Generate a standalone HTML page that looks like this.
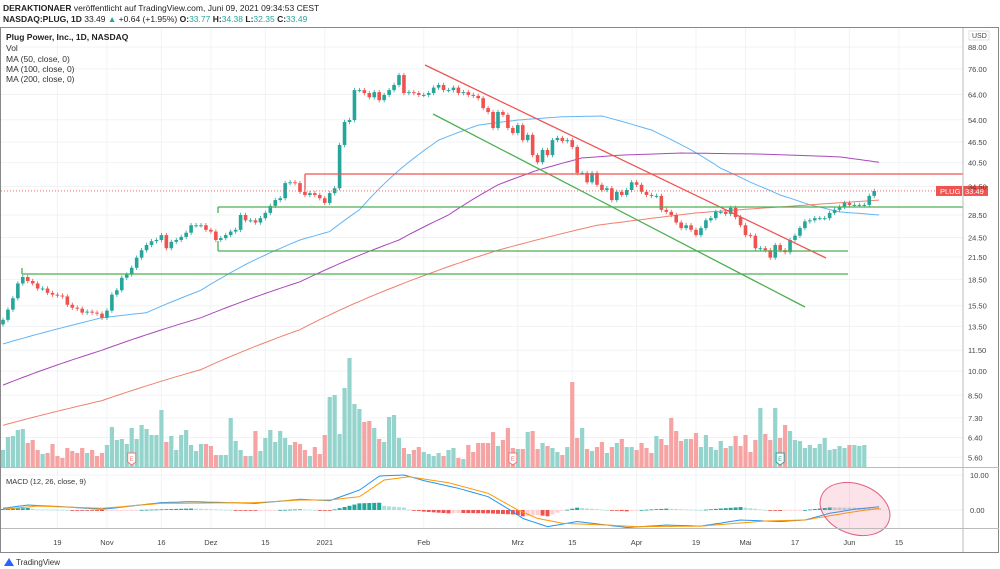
<!DOCTYPE html>
<html><head><meta charset="utf-8"><style>
body{margin:0;background:#fff;font-family:"Liberation Sans",sans-serif;}
svg{display:block}
text{font-family:"Liberation Sans",sans-serif;}
</style></head><body>
<svg id="c" width="1000" height="569" viewBox="0 0 1000 569">
<text x="3" y="11" font-size="8.5" fill="#222"><tspan font-weight="bold">DERAKTIONAER</tspan> veröffentlicht auf TradingView.com, Juni 09, 2021 09:34:53 CEST</text>
<text x="3" y="22" font-size="8.5" fill="#222"><tspan font-weight="bold">NASDAQ:PLUG, 1D</tspan> 33.49 <tspan fill="#26a69a">▲</tspan> +0.64 (+1.95%) <tspan font-weight="bold">O:</tspan><tspan fill="#26a69a">33.77</tspan> <tspan font-weight="bold">H:</tspan><tspan fill="#26a69a">34.38</tspan> <tspan font-weight="bold">L:</tspan><tspan fill="#26a69a">32.35</tspan> <tspan font-weight="bold">C:</tspan><tspan fill="#26a69a">33.49</tspan></text>
<rect x="0.5" y="27.5" width="998" height="525" fill="none" stroke="#888" stroke-width="1"/>
<g id="grid"></g>
<g id="lines"></g>
<g id="vol"></g>
<g id="ma"></g>
<g id="candles"></g>
<g id="draw"></g>
<g id="macd"></g>
<g id="axes"></g>
<text x="6" y="40" font-size="8.5" font-weight="bold" fill="#222">Plug Power, Inc., 1D, NASDAQ</text>
<text x="6" y="51" font-size="8.5" fill="#333">Vol</text>
<text x="6" y="62" font-size="8.5" fill="#333">MA (50, close, 0)</text>
<text x="6" y="72" font-size="8.5" fill="#333">MA (100, close, 0)</text>
<text x="6" y="82" font-size="8.5" fill="#333">MA (200, close, 0)</text>
<text x="6" y="484" font-size="7.5" fill="#333">MACD (12, 26, close, 9)</text>
<g><path d="M4 566 L9 558 L14 566 Z" fill="#2962ff"/><text x="16" y="565" font-size="8" fill="#333">TradingView</text></g>
</svg>
<script>
const closes=[14.1,15.1,16.3,18.0,18.8,18.3,18.0,17.4,17.4,16.9,16.7,16.6,16.5,15.6,15.3,15.2,14.8,14.9,14.8,14.7,14.3,15.0,16.7,17.2,18.7,19.1,20.0,21.4,22.5,23.3,23.9,24.1,24.9,22.8,23.8,24.1,24.6,25.3,26.6,26.6,26.6,25.8,25.5,24.1,24.4,24.9,25.5,25.8,28.5,27.5,27.5,27.1,27.9,28.9,30.3,31.5,31.9,35.3,35.5,35.3,33.3,32.6,33.0,32.6,31.9,30.9,33.0,34.1,
45.6,53.2,53.9,65.9,65.9,64.6,62.8,65.0,61.6,63.8,65.9,68.2,72.9,64.6,65.0,64.6,63.8,63.8,64.6,67.0,68.2,65.9,65.9,67.0,64.6,65.0,63.8,63.4,62.4,58.4,56.9,51.1,56.9,55.8,51.1,49.4,52.1,47.1,48.8,42.6,40.6,44.1,42.6,47.1,47.8,46.8,47.1,45.0,
37.8,37.8,35.5,37.8,34.9,33.7,34.1,31.5,33.3,32.6,33.7,35.5,34.9,33.3,32.6,32.4,32.4,29.5,29.1,28.5,27.1,26.1,26.6,25.8,24.9,26.1,27.5,27.9,29.1,29.1,28.7,29.9,28.1,26.6,24.9,24.8,22.8,22.8,22.5,21.4,23.3,22.5,22.2,24.1,24.8,26.1,27.3,27.5,27.9,27.9,27.9,28.9,29.5,30.1,30.9,30.5,30.5,30.5,30.5,32.4,33.49];
const volumes=[17,30,31,37,38,24,27,17,13,14,23,11,9,19,16,14,19,14,17,11,14,22,40,27,28,23,39,28,42,38,32,32,57,25,31,17,32,37,22,16,23,23,21,12,12,12,49,26,17,11,11,36,16,29,37,25,36,29,22,25,23,17,11,20,13,32,70,72,33,79,109,63,58,45,46,39,28,25,50,52,29,19,13,17,20,15,13,11,
14,11,17,19,9,8,22,15,24,24,24,35,21,27,39,19,18,18,35,36,18,24,21,19,15,12,20,85,29,39,18,16,20,25,14,20,24,28,20,20,17,24,19,14,31,28,22,49,36,26,28,28,34,20,32,20,17,26,19,21,31,21,32,15,27,59,33,27,59,29,42,36,27,26,19,22,19,23,29,17,18,21,19,22,22,21,22];
const ma50Idx=[0,20,29,40,50,60,66,72,80,88,96,104,113,121,131,139,145,151,157,163,169,177];
const ma50Val=[12.0,14.3,14.8,17.2,20.8,24.1,25.5,29.5,38.5,47.1,52.1,53.9,55.1,55.4,50.4,44.1,39.0,35.5,32.6,30.5,29.1,28.5];
const ma100Idx=[0,20,40,60,80,90,100,108,117,125,137,153,169,177];
const ma100Val=[9.1,11.5,14.3,18.2,24.1,28.5,34.9,38.5,41.8,42.6,43.2,42.9,42.1,40.6];
const ma200Idx=[0,20,40,60,80,100,120,140,160,177];
const ma200Val=[6.95,8.2,10.1,13.2,17.8,22.5,26.6,28.9,30.3,31.5];
const macdIdx=[0,5,12,20,32,38,51,60,66,72,76,81,85,92,98,103,105,110,116,122,126,134,141,149,157,162,167,172,177];
const macdVal=[0.48,1.43,0.95,0.19,2.1,2.38,1.9,3.05,2.67,5.7,9.7,10.0,8.4,6.2,3.8,-0.48,-2.4,-4.76,-3.3,-4.3,-5.0,-4.3,-4.6,-2.86,-3.3,-2.86,-0.95,0.19,0.95];
const sigIdx=[0,7,20,32,51,60,66,72,77,82,90,98,104,108,113,122,128,141,154,162,172,177];
const sigVal=[0.19,1.14,0.48,1.9,2.1,2.86,2.86,3.8,8.57,9.5,7.8,4.76,0,-2.4,-3.8,-4.3,-4.76,-4.6,-3.14,-2.86,-0.48,0.48];
const priceTicks=[88,76,64,54,46.5,40.5,34.5,28.5,24.5,21.5,18.5,15.5,13.5,11.5,10,8.5,7.3,6.4,5.6];
const timeLabels=["19","Nov","16","Dez","15","2021","Feb","Mrz","15","Apr","19","Mai","17","Jun","15"];
const timeIdx=[11,21,32,42,53,65,85,104,115,128,140,150,160,171,181];

const NS="http://www.w3.org/2000/svg";
function mk(tag,attrs,parent){const e=document.createElementNS(NS,tag);for(const k in attrs)e.setAttribute(k,attrs[k]);parent.appendChild(e);return e;}
const X=i=>3+i*4.95;
const Y=p=>47+149*Math.log(88/p);
const MZ=510, MS=3.5;
const MY=v=>MZ-v*MS;
function interp(idx,val,i){if(i<=idx[0])return val[0];for(let k=1;k<idx.length;k++){if(i<=idx[k]){const t=(i-idx[k-1])/(idx[k]-idx[k-1]);return val[k-1]+t*(val[k]-val[k-1]);}}return val[val.length-1];}
const G=id=>document.getElementById(id);

// grid
const grid=G('grid');
priceTicks.forEach(p=>{const l=mk('line',{x1:1,x2:963,y1:Y(p),y2:Y(p),stroke:'#f0f3f6'},grid);});
timeIdx.forEach(i=>{const l=mk('line',{x1:X(i),x2:X(i),y1:28,y2:528,stroke:'#f0f3f6'},grid);});
[475,510].forEach(y=>{mk('line',{x1:1,x2:963,y1:y,y2:y,stroke:'#f0f3f6'},grid);});

// axes
const ax=G('axes');
mk('line',{x1:963,x2:963,y1:28,y2:552,stroke:'#bbb'},ax);
mk('line',{x1:1,x2:999,y1:467.5,y2:467.5,stroke:'#bbb'},ax);
mk('line',{x1:1,x2:999,y1:528.5,y2:528.5,stroke:'#bbb'},ax);
priceTicks.forEach(p=>{const t=mk('text',{x:968,y:Y(p)+3,'font-size':7.5,fill:'#444'},ax);t.textContent=p.toFixed(2);});
const usd=mk('text',{x:972,y:38,'font-size':7,fill:'#444'},ax);usd.textContent='USD';

mk('rect',{x:969,y:31,width:20,height:9,fill:'none',stroke:'#ccc','stroke-width':0.6},ax);
timeLabels.forEach((s,k)=>{const t=mk('text',{x:X(timeIdx[k]),y:545,'font-size':7.5,fill:'#444','text-anchor':'middle'},ax);t.textContent=s;});
[[10,475,'10.00'],[0,510,'0.00']].forEach(a=>{const t=mk('text',{x:970,y:a[1]+3,'font-size':7.5,fill:'#444'},ax);t.textContent=a[2];});

// volume
const vg=G('vol');
volumes.forEach((v,i)=>{if(i>=closes.length)return;const o=i?closes[i-1]:closes[0]*0.97;const up=closes[i]>=o;
const r=mk('rect',{x:X(i)-2.1,y:467-v,width:4.2,height:v,fill:up?'#94d4cc':'#f5a3a3'},vg);
});
[[26,'#f07575'],[103,'#f07575'],[157,'#26a69a']].forEach(a=>{const g=mk('g',{},vg);
mk('path',{d:`M${X(a[0])-4} 453 h8 v9 l-4 3 l-4 -3 z`,fill:'#fff',stroke:a[1]},g);const t=mk('text',{x:X(a[0]),y:461,'font-size':6,fill:a[1],'text-anchor':'middle'},g);t.textContent='E';});

// MAs
function maLine(idx,val,col,name){let d='';for(let i=0;i<=177;i++){d+=(i?'L':'M')+X(i).toFixed(1)+' '+Y(interp(idx,val,i)).toFixed(1);}
const p=mk('path',{d:d,fill:'none',stroke:col,'stroke-width':1},G('ma'));}
maLine(ma50Idx,ma50Val,'#64b5f6','ma50-line');
maLine(ma100Idx,ma100Val,'#ab47bc','ma100-line');
maLine(ma200Idx,ma200Val,'#f08070','ma200-line');

// candles
const cg=G('candles');
closes.forEach((c,i)=>{const o=i?closes[i-1]:c*0.97;const up=c>=o;const col=up?'#26a69a':'#ef5350';
const hi=Math.max(o,c)*1.015,lo=Math.min(o,c)*0.985;
const g=mk('g',{},cg);
mk('line',{x1:X(i),x2:X(i),y1:Y(hi),y2:Y(lo),stroke:col,'stroke-width':0.8},g);
const t=Math.min(Y(o),Y(c));mk('rect',{x:X(i)-1.8,y:t,width:3.6,height:Math.max(1,Math.abs(Y(o)-Y(c))),fill:col},g);});

// drawings
const dg=G('draw');
function ln(x1,y1,x2,y2,col,name){const l=mk('line',{x1,y1,x2,y2,stroke:col,'stroke-width':1.3},dg);}
ln(425,65,826,258,'#ef5350','downtrend-resistance');
ln(433,114,805,307,'#4caf50','downtrend-support');
ln(305,174,963,174,'#ef5350','horizontal-resistance');ln(305,174,305,190,'#ef5350','resistance-tick');
ln(218,207,963,207,'#4caf50','support-28');ln(218,207,218,213,'#4caf50','support-28-tick');
ln(218,251,848,251,'#4caf50','support-22');ln(218,241,218,251,'#4caf50','support-22-tick');
ln(22,274,848,274,'#4caf50','support-19');ln(22,274,22,268,'#4caf50','support-19-tick');
const pl=mk('line',{x1:1,x2:963,y1:Y(33.49),y2:Y(33.49),stroke:'#ef5350','stroke-dasharray':'1 2','stroke-width':0.8},dg);

const bg=mk('g',{},dg);
mk('rect',{x:936,y:Y(33.49)-5,width:26,height:10,fill:'#ef5350'},bg);
mk('rect',{x:963,y:Y(33.49)-5,width:25,height:10,fill:'#ef5350'},bg);
let t1=mk('text',{x:940,y:Y(33.49)+3,'font-size':7.5,fill:'#fff'},bg);t1.textContent='PLUG';
let t2=mk('text',{x:965,y:Y(33.49)+3,'font-size':7.5,fill:'#fff'},bg);t2.textContent='33.49';

// MACD
const mg=G('macd');
let prev=0;
for(let i=0;i<=177;i++){const h=interp(macdIdx,macdVal,i)-interp(sigIdx,sigVal,i);const rising=h>=prev;prev=h;
const col=h>=0?(rising?'#26a69a':'#b2dfdb'):(rising?'#ffcdd2':'#ef5350');
const r=mk('rect',{x:X(i)-2,y:Math.min(MY(h),MZ),width:4,height:Math.max(0.8,Math.abs(h)*MS),fill:col},mg);
}
function mline(idx,val,col,name){let d='';for(let i=0;i<=177;i++){d+=(i?'L':'M')+X(i).toFixed(1)+' '+MY(interp(idx,val,i)).toFixed(1);}
const p=mk('path',{d:d,fill:'none',stroke:col,'stroke-width':1},mg);}
mline(macdIdx,macdVal,'#2196f3','macd-line');
mline(sigIdx,sigVal,'#ff9800','signal-line');
const el=mk('ellipse',{cx:855,cy:509,rx:36,ry:25,fill:'rgba(240,100,140,0.18)',stroke:'#e06080','stroke-width':1,transform:'rotate(20 855 509)'},mg);

</script>
</body></html>
